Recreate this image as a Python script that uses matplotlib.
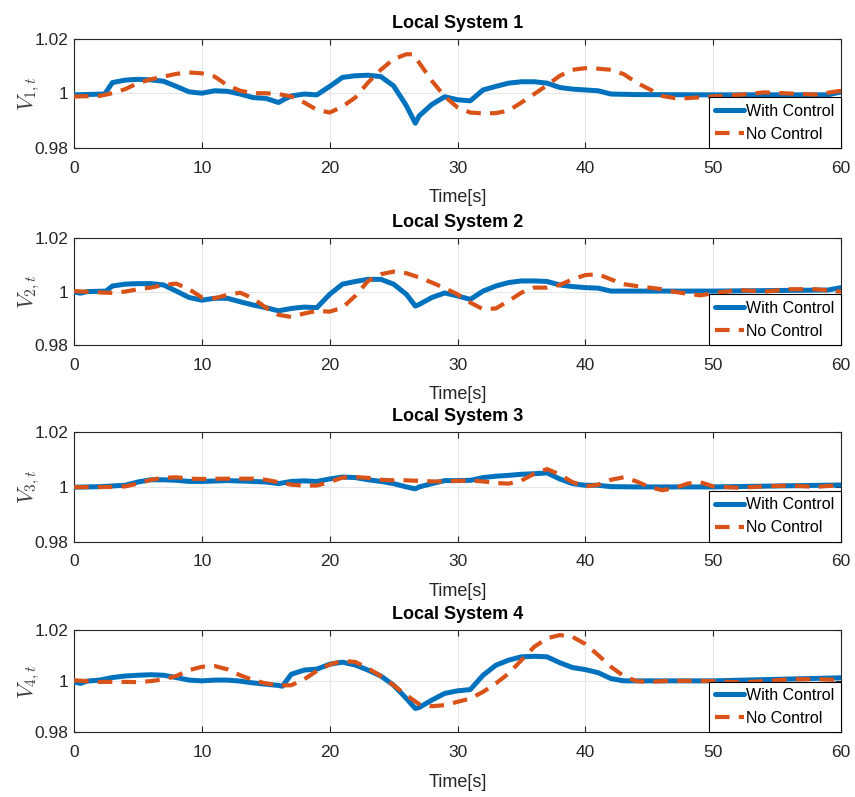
import matplotlib
matplotlib.use("Agg")
import matplotlib.pyplot as plt

plt.rcParams['font.family'] = ['Liberation Sans', 'DejaVu Sans']
plt.rcParams['mathtext.fontset'] = 'cm'

BLUE = '#0072BD'
RED = '#D95319'

# ---- data ----
t1_ctrl = [0, 2.4, 3, 4, 5, 6, 7, 8, 9, 10, 11, 12, 13, 14, 15, 16, 16.5, 17, 18, 19, 20, 21, 22, 23, 24,
           25, 26, 26.7, 27, 28, 29, 30, 31, 32, 33, 34, 35, 36, 37, 38, 39, 40, 41, 42, 44, 50, 59, 60]
v1_ctrl = [0.9995, 0.9998, 1.004, 1.0049, 1.0052, 1.005, 1.0045, 1.0026, 1.0006, 1.0001, 1.001, 1.0008,
           0.9998, 0.9985, 0.9982, 0.9967, 0.998, 0.9991, 0.9998, 0.9995, 1.0026, 1.0059, 1.0065, 1.0067,
           1.0062, 1.0028, 0.9955, 0.9891, 0.9918, 0.996, 0.9988, 0.9977, 0.9973, 1.0013, 1.0026, 1.0038,
           1.0043, 1.0043, 1.0038, 1.0022, 1.0016, 1.0013, 1.001, 0.9998, 0.9996, 0.9995, 0.9995, 1.0006]
t1_none = [0, 2, 3, 4, 5, 6, 7, 8, 9, 10, 11, 12, 13, 14, 15, 16, 17, 18, 19, 20, 21, 22, 23, 24, 25, 26,
           26.5, 27, 28, 29, 30, 31, 32, 33, 34, 35, 36, 37, 38, 39, 40, 41, 42, 43, 44, 45, 46, 47, 48,
           50, 52, 54, 56, 58, 60]
v1_none = [0.9989, 0.9991, 1.0001, 1.0016, 1.0038, 1.0052, 1.0062, 1.0072, 1.0077, 1.0074, 1.0062, 1.003,
           1.001, 1.0001, 1.0001, 0.9998, 0.9989, 0.9967, 0.994, 0.993, 0.9952, 0.9985, 1.004, 1.0087,
           1.0126, 1.0144, 1.0144, 1.0113, 1.0046, 0.9989, 0.9949, 0.993, 0.9927, 0.9928, 0.9937, 0.9967,
           0.9998, 1.003, 1.0065, 1.0087, 1.0093, 1.0091, 1.0087, 1.0071, 1.004, 1.0016, 0.9991, 0.9983,
           0.9983, 0.9989, 0.9995, 1.0004, 1.0, 0.9996, 1.001]

t2_ctrl = [0, 0.5, 1, 2.5, 3, 4, 5, 6, 7, 8, 9, 10, 11, 12, 13, 14, 15, 16, 17, 18, 19, 20, 21, 22, 23, 24,
           25, 26, 26.7, 27, 28, 29, 30, 31, 32, 33, 34, 35, 36, 37, 38, 39, 40, 41, 42, 44, 50, 59, 60]
v2_ctrl = [0.9999, 0.9994, 1.0, 1.0002, 1.0021, 1.0028, 1.003, 1.003, 1.0025, 1.0002, 0.9978, 0.9968,
           0.9975, 0.9975, 0.9962, 0.995, 0.994, 0.9928, 0.9937, 0.9942, 0.994, 0.999, 1.0028, 1.0038,
           1.0046, 1.0046, 1.0028, 0.999, 0.9946, 0.9952, 0.9978, 0.9995, 0.9984, 0.9971, 1.0002, 1.0021,
           1.0034, 1.004, 1.004, 1.0038, 1.0025, 1.0019, 1.0015, 1.0013, 1.0002, 1.0002, 1.0002, 1.0006,
           1.0015]
t2_none = [0, 2, 3, 4, 5, 6, 7, 8, 9, 10, 11, 12, 13, 14, 15, 16, 17, 18, 19, 20, 21, 22, 23, 24, 25, 26,
           27, 28, 29, 30, 31, 32, 33, 34, 35, 36, 37, 38, 39, 40, 41, 42, 43, 44, 45, 46, 47, 48, 49, 50,
           52, 54, 56, 58, 60]
v2_none = [1.0002, 0.9997, 0.9995, 1.0, 1.0009, 1.0015, 1.0025, 1.003, 1.0009, 0.9978, 0.9975, 0.9988,
           0.9996, 0.9975, 0.994, 0.9913, 0.9905, 0.9918, 0.9928, 0.9925, 0.994, 0.9984, 1.004, 1.0065,
           1.0075, 1.0069, 1.0053, 1.0034, 1.0013, 0.999, 0.9959, 0.9934, 0.9937, 0.9965, 0.9996, 1.0015,
           1.0015, 1.0025, 1.0046, 1.0062, 1.0065, 1.0046, 1.0028, 1.0021, 1.0015, 1.0009, 0.9999, 0.9992,
           0.9986, 0.9994, 1.0006, 1.0, 1.0009, 1.0009, 1.0]

t3_ctrl = [0, 2, 4, 5, 6, 7, 8, 9, 10, 12, 14, 15, 16, 17, 18, 19, 20, 21, 22, 23, 24, 25, 26, 26.7, 27,
           28, 29, 30, 31, 32, 33, 34, 35, 36, 37, 38, 39, 40, 41, 42, 44, 50, 60]
v3_ctrl = [0.9998, 1.0, 1.0005, 1.0017, 1.0025, 1.0025, 1.0023, 1.0019, 1.0019, 1.0022, 1.0019, 1.0017,
           1.0011, 1.0019, 1.0021, 1.0019, 1.0028, 1.0035, 1.0033, 1.0025, 1.0019, 1.0011, 0.9999, 0.9992,
           0.9999, 1.0011, 1.0022, 1.0022, 1.0023, 1.0033, 1.0038, 1.0041, 1.0045, 1.0047, 1.005, 1.0028,
           1.0011, 1.0005, 1.0005, 1.0, 0.9999, 0.9999, 1.0006]
t3_none = [0, 3, 4, 5, 6, 7, 8, 9, 10, 12, 14, 15, 16, 17, 18, 19, 20, 21, 22, 23, 24, 25, 26, 27, 28, 29,
           30, 31, 32, 33, 34, 35, 36, 37, 38, 39, 40, 41, 42, 43, 44, 45, 46, 47, 48, 49, 50, 52, 54, 56,
           58, 60]
v3_none = [0.9998, 0.9999, 1.0001, 1.0011, 1.0025, 1.0032, 1.0034, 1.0029, 1.0028, 1.0029, 1.0029, 1.0025,
           1.0016, 1.0007, 1.0004, 1.0004, 1.0017, 1.0033, 1.0035, 1.0032, 1.0025, 1.0023, 1.0023, 1.0021,
           1.0019, 1.0019, 1.0021, 1.0022, 1.0019, 1.0013, 1.0011, 1.0022, 1.0047, 1.0064, 1.0044, 1.0016,
           1.0001, 1.0007, 1.0025, 1.0034, 1.0019, 0.9999, 0.9987, 0.9995, 1.0011, 1.0016, 1.0001, 0.9996,
           1.0001, 1.0004, 0.9999, 1.0006]

t4_ctrl = [0, 0.5, 1, 2, 3, 4, 5, 6, 7, 8, 9, 10, 11, 12, 13, 14, 15, 16, 16.3, 17, 18, 19, 20, 21, 22,
           23, 24, 25, 26, 26.7, 27, 28, 29, 30, 31, 32, 33, 34, 35, 36, 37, 38, 39, 40, 41, 42, 43, 44,
           50, 60]
v4_ctrl = [0.9997, 0.9991, 1.0, 1.0004, 1.0014, 1.002, 1.0023, 1.0025, 1.0023, 1.0014, 1.0004, 1.0001,
           1.0004, 1.0004, 1.0, 0.9993, 0.9988, 0.9983, 0.998, 1.0027, 1.0043, 1.0047, 1.0066, 1.0074,
           1.0063, 1.0043, 1.002, 0.9984, 0.9932, 0.9893, 0.9897, 0.9926, 0.9952, 0.9962, 0.9967, 1.0023,
           1.0062, 1.0082, 1.0095, 1.0097, 1.0095, 1.0072, 1.0053, 1.0045, 1.0033, 1.001, 1.0001, 1.0001,
           1.0001, 1.0013]
t4_none = [0, 2, 3, 4, 5, 6, 7, 8, 9, 10, 11, 12, 13, 14, 15, 16, 17, 18, 19, 20, 21, 22, 23, 24, 25, 26,
           27, 28, 29, 30, 31, 32, 33, 34, 35, 36, 37, 38, 39, 40, 41, 42, 43, 44, 45, 46, 48, 50, 52, 54,
           56, 58, 60]
v4_none = [1.0003, 0.9997, 0.9997, 0.9997, 0.9996, 1.0, 1.0007, 1.002, 1.0043, 1.0056, 1.0059, 1.0046,
           1.0023, 1.0004, 0.9991, 0.9983, 0.9984, 1.0007, 1.004, 1.0065, 1.0079, 1.0075, 1.005, 1.002,
           0.9984, 0.9945, 0.991, 0.9902, 0.9906, 0.9919, 0.9932, 0.9958, 0.9991, 1.003, 1.0082, 1.0134,
           1.0167, 1.018, 1.0173, 1.0145, 1.0102, 1.0056, 1.002, 1.0, 0.9997, 1.0, 1.0001, 1.0, 0.9995,
           1.0, 1.0007, 1.0008, 1.0004]

systems = [
    ("Local System 1", r"$V_{1,t}$", t1_ctrl, v1_ctrl, t1_none, v1_none),
    ("Local System 2", r"$V_{2,t}$", t2_ctrl, v2_ctrl, t2_none, v2_none),
    ("Local System 3", r"$V_{3,t}$", t3_ctrl, v3_ctrl, t3_none, v3_none),
    ("Local System 4", r"$V_{4,t}$", t4_ctrl, v4_ctrl, t4_none, v4_none),
]

# axes boxes in figure fractions (left, bottom, width, height)
boxes = [
    (0.0866, 0.8143, 0.897, 0.1368),
    (0.0866, 0.5671, 0.897, 0.1340),
    (0.0866, 0.3204, 0.897, 0.1380),
    (0.0866, 0.0812, 0.897, 0.1284),
]

fig = plt.figure(figsize=(8.55, 7.97), dpi=100)

for (title, ylab, tc, vc, tn, vn), box in zip(systems, boxes):
    ax = fig.add_axes(box)
    ax.plot(tc, vc, color=BLUE, lw=3.6, solid_capstyle='round', solid_joinstyle='round',
            label='With Control', zorder=3)
    ax.plot(tn, vn, color=RED, lw=3.0, dashes=(3.5, 2.2), label='No Control', zorder=4)
    ax.set_xlim(0, 60)
    ax.set_ylim(0.98, 1.02)
    ax.set_xticks([0, 10, 20, 30, 40, 50, 60])
    ax.set_yticks([0.98, 1.0, 1.02])
    ax.set_yticklabels(['0.98', '1', '1.02'])
    ax.grid(True, color='#e6e6e6', lw=0.8, zorder=0)
    ax.tick_params(direction='in', top=True, right=True, labelsize=12.5, colors='#262626',
                   length=4, width=0.8)
    ax.tick_params(axis='x', pad=9)
    ax.tick_params(axis='y', pad=4)
    for s in ax.spines.values():
        s.set_color('#262626')
        s.set_linewidth(0.8)
    ax.set_title(title, fontsize=13, fontweight='bold', pad=8)
    ax.set_xlabel('Time[s]', fontsize=13, color='#262626', labelpad=10)
    ax.set_ylabel(ylab, fontsize=16, color='#404040', labelpad=-5)
    leg = ax.legend(loc='lower right', frameon=True, fancybox=False, fontsize=11.5,
                    borderaxespad=0, handlelength=1.8, handletextpad=0.15,
                    borderpad=0.4, labelspacing=0.5)
    leg.get_frame().set_edgecolor('black')
    leg.get_frame().set_linewidth(0.8)
    leg.get_frame().set_alpha(1)

fig.savefig('out.png', dpi=100)
